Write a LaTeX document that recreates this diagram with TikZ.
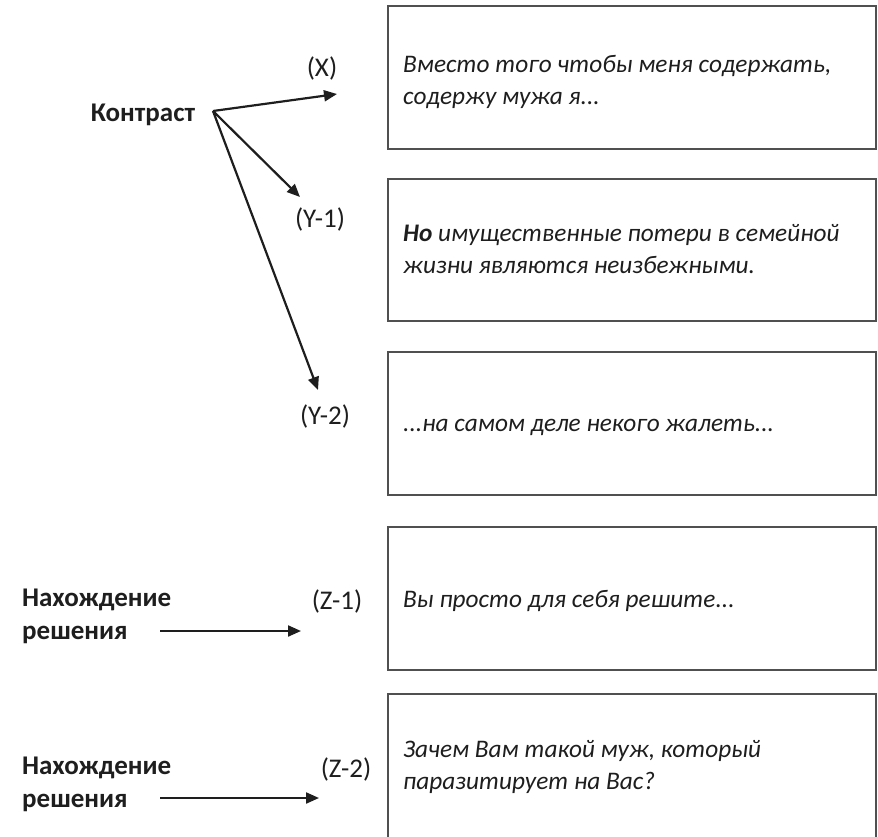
\documentclass[tikz,border=0pt]{standalone}
\usepackage{fontspec}
\setmainfont{Carlito}
\usetikzlibrary{arrows.meta}
\definecolor{ink}{HTML}{1E1E1E}
\definecolor{frame}{HTML}{505050}
\begin{document}
\begin{tikzpicture}[x=1pt,y=-1pt,
  every node/.style={inner sep=0pt,text=ink,font=\fontsize{27}{32}\selectfont},
  quote/.style={anchor=west,align=left,font=\fontsize{25.3}{32}\selectfont\itshape},
  tag/.style={anchor=center},
  head/.style={anchor=west,align=left,font=\fontsize{27}{33}\selectfont\bfseries},
  textbox/.style={draw=frame,line width=2pt},
  pointer/.style={draw=ink,line width=2.2pt,-{Triangle[length=13pt,width=11pt]}}]
\useasboundingbox (0,0) rectangle (878,836);
\clip (0,0) rectangle (878,836);

% boxes on the right
\draw[textbox] (388,6) rectangle (876,149);
\draw[textbox] (388,179) rectangle (876,321);
\draw[textbox] (388,352) rectangle (876,495);
\draw[textbox] (388,527) rectangle (876,670);
\draw[textbox] (388,694) rectangle (876,860);

% quoted phrases
\node[quote] (q1) at (403,82) {Вместо того чтобы меня содержать,\\содержу мужа я...};
\node[quote] (q2) at (403,249) {\textbf{Но} имущественные потери в семейной\\жизни являются неизбежными.};
\node[quote] (q3) at (403,427) {...на самом деле некого жалеть...};
\node[quote] (q4) at (403,601) {Вы просто для себя решите...};
\node[quote] (q5) at (403,767) {Зачем Вам такой муж, который\\паразитирует на Вас?};

% contrast fan
\node[font=\fontsize{27}{32}\selectfont\bfseries] (kontrast) at (143,115) {Контраст};
\coordinate (hub) at (213,111);
\coordinate (tipX) at (337,94);
\coordinate (tipY1) at (300,197);
\coordinate (tipY2) at (318,390);
\draw[pointer] (hub) -- (tipX);
\draw[pointer] (hub) -- (tipY1);
\draw[pointer] (hub) -- (tipY2);
\node[tag] (lx) at (322,68) {(X)};
\node[tag] (ly1) at (320,219) {(Y-1)};
\node[tag] (ly2) at (325,416) {(Y-2)};

% solution rows
\node[head] (s1) at (22,616) {Нахождение\\решения};
\coordinate (a1) at (160,631);
\coordinate (b1) at (301,631);
\draw[pointer] (a1) -- (b1);
\node[tag] (lz1) at (337,601) {(Z-1)};

\node[head] (s2) at (22,784) {Нахождение\\решения};
\coordinate (a2) at (160,798);
\coordinate (b2) at (319,798);
\draw[pointer] (a2) -- (b2);
\node[tag] (lz2) at (346,769) {(Z-2)};
\end{tikzpicture}
\end{document}
